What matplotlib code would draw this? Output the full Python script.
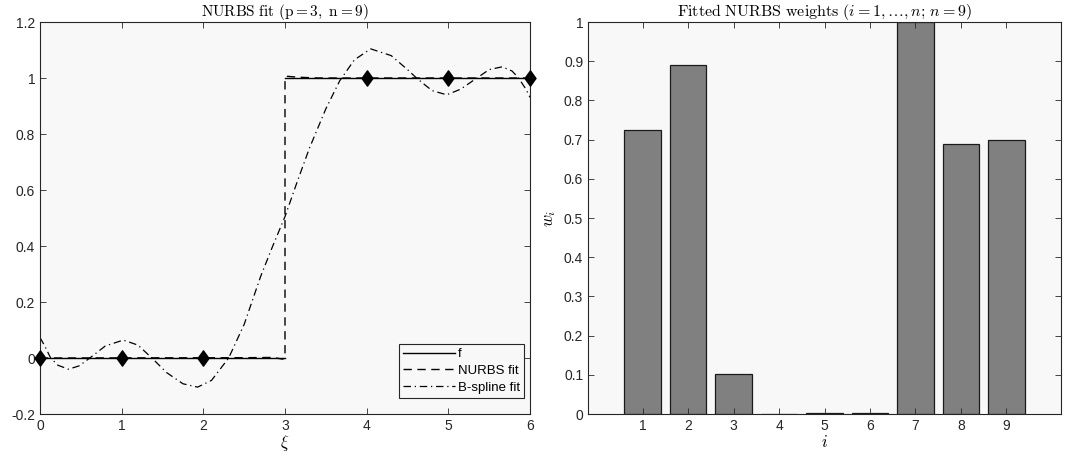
import matplotlib
matplotlib.use("Agg")
import matplotlib.pyplot as plt
from matplotlib.path import Path

plt.rcParams['font.family'] = ['Liberation Sans', 'DejaVu Sans']
plt.rcParams['mathtext.fontset'] = 'cm'

# ---------------- data ----------------
f_left_x = [0.0, 3.0]
f_left_y = [0.0, 0.0]
f_right_x = [3.0, 6.0]
f_right_y = [1.0, 1.0]

nurbs_x = [0.0, 2.5, 2.85, 2.97, 3.0, 3.0, 3.03, 3.15, 3.4, 6.0]
nurbs_y = [0.0, 0.001, 0.002, -0.004, 0.0, 1.0, 1.006, 1.003, 1.0, 1.0]

bspline_x = [0.0, 0.06, 0.13, 0.22, 0.35, 0.48, 0.61, 0.8, 1.02, 1.2, 1.37,
             1.55, 1.75, 1.93, 2.1, 2.31, 2.5, 2.7, 2.85, 3.0, 3.15, 3.3,
             3.5, 3.67, 3.85, 4.05, 4.3, 4.5, 4.61, 4.8, 4.98, 5.15, 5.35,
             5.5, 5.66, 5.78, 5.86, 5.95, 6.0]
bspline_y = [0.073, 0.042, 0.0, -0.026, -0.040, -0.028, 0.0, 0.043, 0.064, 0.046, 0.0,
             -0.052, -0.092, -0.104, -0.080, 0.0, 0.12, 0.29, 0.40, 0.505, 0.63, 0.75,
             0.89, 0.99, 1.065, 1.104, 1.08, 1.03, 1.0, 0.955, 0.94, 0.96, 1.0,
             1.03, 1.04, 1.025, 1.0, 0.96, 0.931]

pts_x = [0, 1, 2, 4, 5, 6]
pts_y = [0, 0, 0, 1, 1, 1]

idx = [1, 2, 3, 4, 5, 6, 7, 8, 9]
weights = [0.725, 0.89, 0.103, 0.0005, 0.002, 0.002, 1.0, 0.688, 0.70]

# ---------------- figure ----------------
fig = plt.figure(figsize=(10.85, 4.59), dpi=100)
bg = '#f8f8f8'
edge = '#262626'

ax1 = fig.add_axes([40/1085, 1-414/459, 490/1085, 392/459])
ax2 = fig.add_axes([588/1085, 1-414/459, 473/1085, 392/459])

for ax in (ax1, ax2):
    ax.set_facecolor(bg)
    for s in ax.spines.values():
        s.set_color(edge)
        s.set_linewidth(0.8)
    ax.tick_params(direction='in', top=True, right=True, length=4,
                   width=0.6, color=edge, labelsize=10, labelcolor='#262626')

# left panel
ax1.plot(f_left_x, f_left_y, '-', color='black', lw=1.0, label='f')
ax1.plot(f_right_x, f_right_y, '-', color='black', lw=1.0)
ax1.plot(nurbs_x, nurbs_y, '--', color='black', lw=1.0, dashes=(6, 4), label='NURBS fit')
ax1.plot(bspline_x, bspline_y, '-.', color='black', lw=0.9, dashes=(6, 3, 1, 3), label='B-spline fit')
diamond = Path([(-0.72, 0), (0, 1), (0.72, 0), (0, -1), (-0.72, 0)],
               [Path.MOVETO, Path.LINETO, Path.LINETO, Path.LINETO, Path.CLOSEPOLY])
ax1.plot(pts_x, pts_y, linestyle='none', marker=diamond, markersize=11,
         color='black', clip_on=False, zorder=5)
ax1.set_xlim(0, 6)
ax1.set_ylim(-0.2, 1.2)
ax1.set_xticks([0, 1, 2, 3, 4, 5, 6])
ax1.set_yticks([-0.2, 0, 0.2, 0.4, 0.6, 0.8, 1.0, 1.2])
ax1.set_yticklabels(['-0.2', '0', '0.2', '0.4', '0.6', '0.8', '1', '1.2'])
ax1.set_xlabel(r'$\xi$', fontsize=12, labelpad=0)
ax1.set_title(r'$\mathrm{NURBS\ fit\ (p{=}3,\ n{=}9)}$', fontsize=11, pad=4)
leg = ax1.legend(loc='lower right', bbox_to_anchor=(0.988, 0.041), fontsize=9.5,
                 frameon=True, fancybox=False, edgecolor=edge, facecolor=bg,
                 framealpha=1, handlelength=4.0, handletextpad=0.2,
                 borderpad=0.3, labelspacing=0.35, borderaxespad=0.0)
leg.get_frame().set_linewidth(0.8)

# right panel
ax2.bar(idx, weights, width=0.8, color='#808080', edgecolor='#1a1a1a', linewidth=0.9)
ax2.set_xlim(-0.2, 10.2)
ax2.set_ylim(0, 1)
ax2.set_xticks(idx)
ax2.set_yticks([0, 0.1, 0.2, 0.3, 0.4, 0.5, 0.6, 0.7, 0.8, 0.9, 1.0])
ax2.set_yticklabels(['0', '0.1', '0.2', '0.3', '0.4', '0.5', '0.6', '0.7', '0.8', '0.9', '1'])
ax2.set_xlabel(r'$i$', fontsize=12, labelpad=1)
ax2.set_ylabel(r'$w_i$', fontsize=12, labelpad=4)
ax2.set_title(r'$\mathrm{Fitted\ NURBS\ weights\ (}i=1,\ldots,n;\,n=9\mathrm{)}$', fontsize=11.5, pad=4)

fig.savefig('out.png', dpi=100, facecolor='white')
